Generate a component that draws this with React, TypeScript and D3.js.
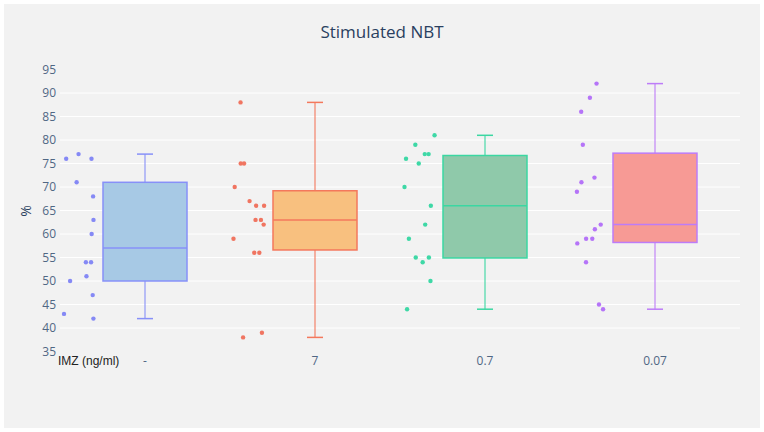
import { useEffect, useRef } from 'react';
import * as d3 from 'd3';

const categories = ['-', '7', '0.7', '0.07']

// measured % per donor, one array per IMZ concentration
const noImz = [77, 76, 76, 71, 68, 63, 60, 54, 54, 51, 50, 47, 43, 42]
const imz7 = [88, 75, 75, 70, 67, 66, 66, 63, 63, 62, 59, 56, 56, 39, 38]
const imz07 = [81, 79, 77, 77, 76, 75, 70, 66, 62, 59, 55, 55, 54, 50, 44]
const imz007 = [92, 89, 86, 79, 72, 71, 69, 62, 61, 59, 59, 58, 54, 45, 44]

// quartiles as they come out of the box summary
const q1 = [50, 56.6, 54.9, 58.2]
const q3 = [71, 69.2, 76.7, 77.2]

const yTicks = [35, 40, 45, 50, 55, 60, 65, 70, 75, 80, 85, 90, 95]

const lineColors = ['#8790f8', '#f4785c', '#3bd7a2', '#bd7cf8']
const fillColors = ['#a7c9e5', '#f8c07f', '#8fc9aa', '#f79a95']
const pointColors = ['#8589f5', '#f07561', '#3ed8a6', '#b574f8']

function App() {
  const svgRef = useRef(null)

  useEffect(() => {
    const series = [noImz, imz7, imz07, imz007]
    const svg = d3.select(svgRef.current)
    svg.selectAll('*').remove()

    const x = d3.scaleBand()
      .domain(categories)
      .range([60, 740])

    const y = d3.scaleLinear()
      .domain([35, 95])
      .range([351.5, 69.5])

    svg.append('rect')
      .attr('x', 4).attr('y', 4)
      .attr('width', 756).attr('height', 424)
      .attr('fill', '#f2f2f2')

    svg.append('text')
      .attr('x', 382).attr('y', 38)
      .attr('text-anchor', 'middle')
      .attr('font-family', '"Open Sans", sans-serif')
      .attr('font-size', 17)
      .attr('fill', '#2a3f5f')
      .text('Stimulated NBT')

    // horizontal grid, only inside the plot range
    svg.append('g')
      .selectAll('line')
      .data(yTicks.filter(t => t > 35 && t < 95))
      .enter()
      .append('line')
      .attr('x1', 60).attr('x2', 740)
      .attr('y1', d => y(d)).attr('y2', d => y(d))
      .attr('stroke', '#ffffff')
      .attr('stroke-width', 1)

    const yAxis = d3.axisLeft(y).tickValues(yTicks).tickSize(0).tickPadding(0)
    const gy = svg.append('g')
      .attr('transform', 'translate(56,0)')
      .call(yAxis)
    gy.select('.domain').remove()
    gy.selectAll('text')
      .attr('font-family', '"Open Sans", sans-serif')
      .attr('font-size', 12)
      .attr('fill', '#506784')

    const xAxis = d3.axisBottom(x).tickSize(0).tickPadding(0)
    const gx = svg.append('g')
      .attr('transform', 'translate(0,356)')
      .call(xAxis)
    gx.select('.domain').remove()
    gx.selectAll('text')
      .attr('font-family', '"Open Sans", sans-serif')
      .attr('font-size', 12)
      .attr('fill', '#506784')

    svg.append('text')
      .attr('transform', 'translate(31,211) rotate(-90)')
      .attr('text-anchor', 'middle')
      .attr('font-family', '"Open Sans", sans-serif')
      .attr('font-size', 14)
      .attr('fill', '#2a3f5f')
      .text('%')

    svg.append('text')
      .attr('x', 58).attr('y', 365)
      .attr('font-family', '"Liberation Sans", Arial, sans-serif')
      .attr('font-size', 12)
      .attr('fill', '#222')
      .text('IMZ (ng/ml)')

    const boxHalf = 42
    const capHalf = 8

    series.forEach((values, i) => {
      const cx = x(categories[i]) + x.bandwidth() / 2
      const g = svg.append('g')
      const lo = d3.min(values)
      const hi = d3.max(values)
      const med = d3.median(values)
      const color = lineColors[i]

      // whisker stem and caps
      g.append('line')
        .attr('x1', cx).attr('x2', cx)
        .attr('y1', y(hi)).attr('y2', y(q3[i]))
        .attr('stroke', color).attr('stroke-width', 2).attr('stroke-opacity', 0.55)
      g.append('line')
        .attr('x1', cx).attr('x2', cx)
        .attr('y1', y(q1[i])).attr('y2', y(lo))
        .attr('stroke', color).attr('stroke-width', 2).attr('stroke-opacity', 0.55)
      ;[hi, lo].forEach(v => {
        g.append('line')
          .attr('x1', cx - capHalf).attr('x2', cx + capHalf)
          .attr('y1', y(v)).attr('y2', y(v))
          .attr('stroke', color).attr('stroke-width', 1.5)
      })

      g.append('rect')
        .attr('x', cx - boxHalf)
        .attr('y', y(q3[i]))
        .attr('width', boxHalf * 2)
        .attr('height', y(q1[i]) - y(q3[i]))
        .attr('fill', fillColors[i])
        .attr('stroke', color)
        .attr('stroke-width', 1.5)

      g.append('line')
        .attr('x1', cx - boxHalf).attr('x2', cx + boxHalf)
        .attr('y1', y(med)).attr('y2', y(med))
        .attr('stroke', color).attr('stroke-width', 1.5)

      // jittered raw points to the left of each box
      const rand = d3.randomUniform.source(d3.randomLcg(0.17 + i * 0.23))(-16, 16)
      g.selectAll('circle')
        .data(values)
        .enter()
        .append('circle')
        .attr('cx', () => cx - 66 + rand())
        .attr('cy', d => y(d))
        .attr('r', 2.2)
        .attr('fill', pointColors[i])
    })
    // eslint-disable-next-line
  }, [])

  return (
    <div style={{ position: 'absolute', left: 0, top: 0 }}>
      <svg ref={svgRef} width={764} height={432} style={{ display: 'block', background: '#fff' }}></svg>
    </div>
  )
}

export default App
